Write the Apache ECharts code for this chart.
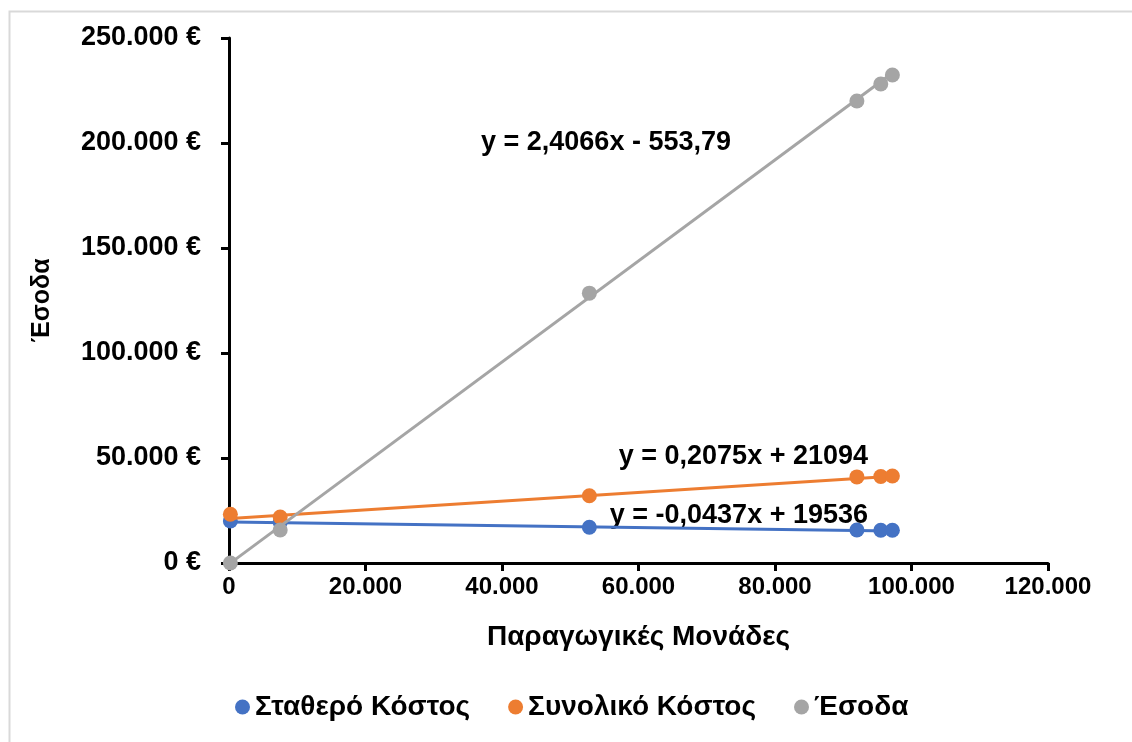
<!DOCTYPE html>
<html><head><meta charset="utf-8">
<script src="https://cdn.jsdelivr.net/npm/echarts@6/dist/echarts.min.js"></script>
<style>html,body{margin:0;padding:0;background:#fff}#c{width:1132px;height:742px}</style>
</head><body><div id="c"></div>
<script>
// ---- data ----
const seriesNames = ['Σταθερό Κόστος', 'Συνολικό Κόστος', 'Έσοδα'];
const units = [200, 7500, 52800, 92000, 95500, 97200];
const fixedCost = [20000, 19300, 17000, 15700, 15600, 15600];
const totalCost = [23200, 21900, 32000, 41000, 41200, 41400];
const revenue = [0, 15700, 128500, 220000, 228100, 232400];
// trendline coefficients (slope, intercept) as shown on the chart
const trendFixed = [-0.0437, 19536];
const trendTotal = [0.2075, 21094];
const trendRevenue = [2.4066, -553.79];
const trendLabels = ['y = -0,0437x + 19536', 'y = 0,2075x + 21094', 'y = 2,4066x - 553,79'];
const xTicks = [0, 20000, 40000, 60000, 80000, 100000, 120000];
const yTicks = [0, 50000, 100000, 150000, 200000, 250000];
const xTitle = 'Παραγωγικές Μονάδες';
const yTitle = 'Έσοδα';

const colors = ['#4472C4', '#ED7D31', '#A5A5A5'];
const fmt = v => v === 0 ? '0' : Math.round(v).toString().replace(/\B(?=(\d{3})+(?!\d))/g, '.');

function pairs(xs, ys) { return xs.map((x, i) => [x, ys[i]]); }
function trend(c) {
  const x0 = Math.min(...units), x1 = Math.max(...units);
  return [[x0, c[0] * x0 + c[1]], [x1, c[0] * x1 + c[1]]];
}

const chart = echarts.init(document.getElementById('c'));
const seriesData = [fixedCost, totalCost, revenue];
const trends = [trendFixed, trendTotal, trendRevenue];
const series = [];
for (let i = 0; i < 3; i++) {
  series.push({
    name: seriesNames[i] + ' trend', type: 'line', data: trend(trends[i]),
    showSymbol: false, symbol: 'none', silent: true,
    lineStyle: { color: colors[i], width: 3 }, z: 2 + i * 2
  });
  series.push({
    name: seriesNames[i], type: 'scatter', data: pairs(units, seriesData[i]),
    symbol: 'circle', symbolSize: 15,
    itemStyle: { color: colors[i], opacity: 1 }, z: 3 + i * 2
  });
}

const labelFont = { fontFamily: 'Liberation Sans, Arial, sans-serif', fontWeight: 'bold', fontSize: 27, fill: '#000' };

chart.setOption({
  animation: false,
  backgroundColor: '#fff',
  grid: { left: 229, right: 84, top: 38, bottom: 179 },
  xAxis: {
    type: 'value', min: 0, max: 120000, interval: 20000,
    name: xTitle, nameLocation: 'middle', nameGap: 60,
    nameTextStyle: { fontFamily: 'Liberation Sans, Arial', fontWeight: 'bold', fontSize: 28, color: '#000' },
    axisLine: { show: true, onZero: false, lineStyle: { color: '#000', width: 3 } },
    axisTick: { show: true, length: 8, lineStyle: { color: '#000', width: 3 } },
    axisLabel: { margin: 12, fontFamily: 'Liberation Sans, Arial', fontWeight: 'bold', fontSize: 24, color: '#000',
      formatter: v => xTicks.includes(v) ? fmt(v) : '' },
    splitLine: { show: false }
  },
  yAxis: {
    type: 'value', min: 0, max: 250000, interval: 50000,
    name: yTitle, nameLocation: 'middle', nameGap: 174, nameRotate: 90,
    nameTextStyle: { fontFamily: 'Liberation Sans, Arial', fontWeight: 'bold', fontSize: 25, color: '#000' },
    axisLine: { show: true, onZero: false, lineStyle: { color: '#000', width: 3 } },
    axisTick: { show: true, length: 8, lineStyle: { color: '#000', width: 3 } },
    axisLabel: { margin: 28, fontFamily: 'Liberation Sans, Arial', fontWeight: 'bold', fontSize: 27, color: '#000',
      formatter: v => yTicks.includes(v) ? fmt(v) + ' €' : '' },
    splitLine: { show: false }
  },
  legend: {
    data: seriesNames, bottom: 16, left: 230, itemGap: 38,
    icon: 'circle', itemWidth: 15, itemHeight: 15,
    textStyle: { fontFamily: 'Liberation Sans, Arial', fontWeight: 'bold', fontSize: 28, color: '#000' }
  },
  graphic: [
    { type: 'rect', left: 7, top: 9, shape: { width: 1124, height: 732 }, style: { fill: 'none', stroke: '#d9d9d9', lineWidth: 2 }, z: -1, silent: true },
    { type: 'text', x: 606, y: 143, style: Object.assign({ text: trendLabels[2], align: 'center', verticalAlign: 'middle' }, labelFont) },
    { type: 'text', x: 868, y: 457, style: Object.assign({ text: trendLabels[1], align: 'right', verticalAlign: 'middle' }, labelFont) },
    { type: 'text', x: 868, y: 516, style: Object.assign({ text: trendLabels[0], align: 'right', verticalAlign: 'middle' }, labelFont) }
  ],
  series: series
});
</script>
</body></html>
